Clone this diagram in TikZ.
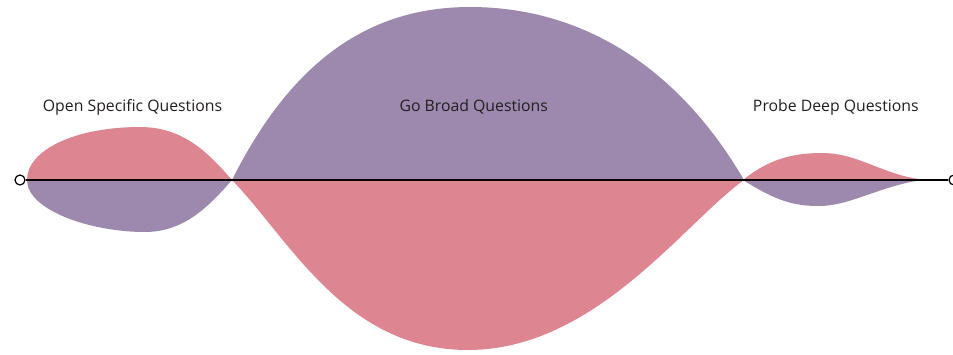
\documentclass[tikz,border=0pt]{standalone}
\usepackage{fontspec}
\setmainfont{Open Sans}
\definecolor{lobepink}{HTML}{DE8592}
\definecolor{lobepurple}{HTML}{9D89AD}
\definecolor{labeltext}{HTML}{231F20}
\begin{document}
\begin{tikzpicture}[x=1pt,y=-1pt,
  pinkfill/.style={fill=lobepink,draw=none},
  purplefill/.style={fill=lobepurple,draw=none},
  axisline/.style={draw=black,line width=1.4pt},
  endpoint/.style={circle,draw=black,fill=white,line width=1.2pt,minimum size=10pt,inner sep=0pt},
  phaselabel/.style={anchor=base,text=labeltext,font=\fontsize{15.8}{18}\selectfont,inner sep=0pt}]
\useasboundingbox (0,0) rectangle (953,354);
% lobe 1
\fill[pinkfill] (27,180) .. controls (27,150) and (75,127) .. (140,127) .. controls (185,127) and (210,155) .. (232,180) -- cycle;
\fill[purplefill] (27,180) .. controls (27,210) and (90,232) .. (145,232) .. controls (185,232) and (210,205) .. (232,180) -- cycle;
% lobe 2
\fill[purplefill] (232,180) .. controls (292,60) and (370,7) .. (470,7) .. controls (585,7) and (680,70) .. (744,180) -- cycle;
\fill[pinkfill] (232,180) .. controls (290,240) and (345,350) .. (468,350) .. controls (595,350) and (684,223) .. (744,180) -- cycle;
% lobe 3
\fill[pinkfill] (743,180) .. controls (770,158) and (795,153) .. (822,153) .. controls (860,153) and (885,177) .. (928,180) -- cycle;
\fill[purplefill] (743,180) .. controls (775,200) and (792,206) .. (819,206) .. controls (850,206) and (880,186) .. (922,180) -- cycle;
% axis
\node[endpoint] (start) at (20,180) {};
\node[endpoint] (finish) at (954,180) {};
\draw[axisline] (start) -- (finish);
% labels
\node[phaselabel] (open) at (132.5,111) {Open Specific Questions};
\node[phaselabel] (broad) at (473.7,111) {Go Broad Questions};
\node[phaselabel] (probe) at (835.8,111) {Probe Deep Questions};
\end{tikzpicture}
\end{document}
